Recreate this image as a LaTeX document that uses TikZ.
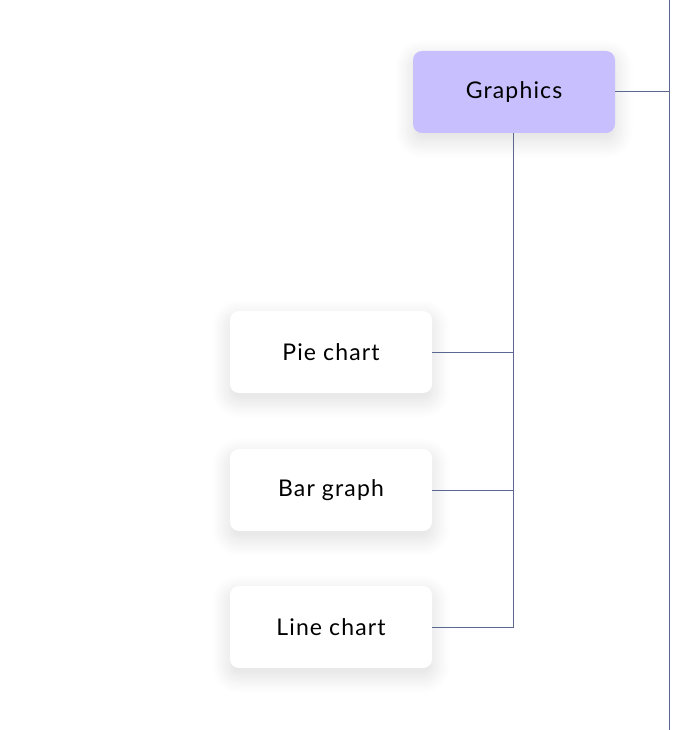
\documentclass[tikz,border=0pt]{standalone}
\usepackage{fontspec}
\setmainfont{Lato}[LetterSpace=5]
\usetikzlibrary{shadows.blur}
\definecolor{conn}{HTML}{5B6791}
\definecolor{violetbox}{HTML}{C8BFFF}
\tikzset{
  card/.style={rounded corners=9pt, minimum width=202pt, minimum height=82pt, inner sep=0pt,
    blur shadow={shadow xshift=0pt, shadow yshift=-7pt, shadow blur radius=18pt, shadow blur steps=16, shadow opacity=14},
    font=\fontsize{23}{26}\selectfont, text=black},
  whitecard/.style={card, fill=white},
  violetcard/.style={card, fill=violetbox},
  link/.style={draw=conn, line width=1pt}
}
\begin{document}
\begin{tikzpicture}[x=1pt,y=-1pt]
\useasboundingbox (0,0) rectangle (700,730);
\node[violetcard] (g) at (514,92) {Graphics};
\node[whitecard] (pc) at (331,352) {Pie chart};
\node[whitecard] (bg) at (331,490) {Bar graph};
\node[whitecard] (lc) at (331,627) {Line chart};
\coordinate (rtop) at (669,0);
\coordinate (rbot) at (669,730);
\coordinate (trunk) at (513,0);
\draw[link] (rtop) -- (rbot);
\draw[link] (g.east) -- (g.east -| rtop);
\draw[link] (g.south -| trunk) -- (lc.east -| trunk) -- (lc.east);
\draw[link] (pc.east) -- (pc.east -| trunk);
\draw[link] (bg.east) -- (bg.east -| trunk);
\end{tikzpicture}
\end{document}
